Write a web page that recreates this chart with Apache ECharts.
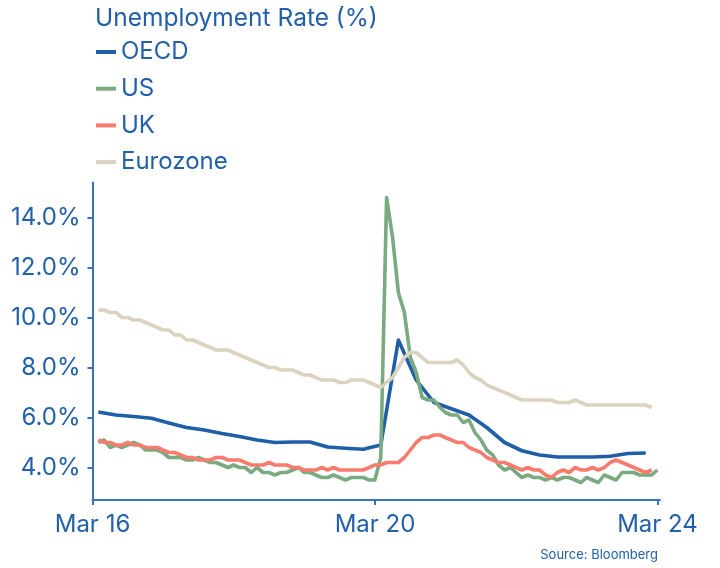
<!DOCTYPE html>
<html>
<head>
<meta charset="utf-8">
<script src="https://cdn.jsdelivr.net/npm/echarts@6/dist/echarts.min.js"></script>
<style>
  html, body { margin: 0; padding: 0; background: #fff; }
  #chart { width: 720px; height: 568px; }
</style>
</head>
<body>
<div id="chart"></div>
<script>
// ---- Data (monthly series start Mar 2016, plotted at month end) ----
const seriesNames = ['OECD', 'US', 'UK', 'Eurozone'];

// US: Mar 2016 .. Feb 2024
const usValues = [
  5.0, 5.1, 4.8, 4.9, 4.8, 4.9, 5.0, 4.9, 4.7, 4.7,
  4.7, 4.6, 4.4, 4.4, 4.4, 4.3, 4.3, 4.4, 4.3, 4.2, 4.2, 4.1,
  4.0, 4.1, 4.0, 4.0, 3.8, 4.0, 3.8, 3.8, 3.7, 3.8, 3.8, 3.9,
  4.0, 3.8, 3.8, 3.7, 3.6, 3.6, 3.7, 3.6, 3.5, 3.6, 3.6, 3.6,
  3.5, 3.5, 4.4, 14.8, 13.2, 11.0, 10.2, 8.4, 7.8, 6.8, 6.7, 6.7,
  6.4, 6.2, 6.1, 6.1, 5.8, 5.9, 5.4, 5.1, 4.7, 4.5, 4.1, 3.9,
  4.0, 3.8, 3.6, 3.7, 3.6, 3.6, 3.5, 3.6, 3.5, 3.6, 3.6, 3.5,
  3.4, 3.6, 3.5, 3.4, 3.7, 3.6, 3.5, 3.8, 3.8, 3.8, 3.7, 3.7,
  3.7, 3.9
];

// UK: Mar 2016 .. Jan 2024
const ukValues = [
  5.1, 5.0, 5.0, 4.9, 4.9, 5.0, 4.9, 4.9, 4.8, 4.8,
  4.8, 4.7, 4.6, 4.6, 4.5, 4.4, 4.4, 4.3, 4.3, 4.3, 4.4, 4.4,
  4.3, 4.3, 4.3, 4.2, 4.1, 4.1, 4.1, 4.2, 4.1, 4.1, 4.1, 4.0,
  4.0, 3.9, 3.9, 3.9, 4.0, 3.9, 4.0, 3.9, 3.9, 3.9, 3.9, 3.9,
  4.0, 4.1, 4.1, 4.2, 4.2, 4.2, 4.4, 4.7, 5.0, 5.2, 5.2, 5.3,
  5.3, 5.2, 5.1, 5.0, 5.0, 4.8, 4.7, 4.6, 4.4, 4.3, 4.2, 4.2,
  4.1, 4.0, 3.9, 4.0, 3.9, 3.9, 3.7, 3.6, 3.8, 3.9, 3.8, 4.0,
  3.9, 3.9, 4.0, 3.9, 4.0, 4.2, 4.3, 4.2, 4.1, 4.0, 3.9, 3.8,
  3.9
];

// Eurozone: Mar 2016 .. Jan 2024
const euroValues = [
  10.3, 10.3, 10.2, 10.2, 10.0, 10.0, 9.9, 9.9, 9.8, 9.7,
  9.6, 9.5, 9.5, 9.3, 9.3, 9.1, 9.1, 9.0, 8.9, 8.8, 8.7, 8.7,
  8.7, 8.6, 8.5, 8.4, 8.3, 8.2, 8.1, 8.0, 8.0, 7.9, 7.9, 7.9,
  7.8, 7.7, 7.7, 7.6, 7.5, 7.5, 7.5, 7.4, 7.4, 7.5, 7.5, 7.5,
  7.4, 7.3, 7.2, 7.4, 7.6, 8.0, 8.4, 8.6, 8.6, 8.4, 8.2, 8.2,
  8.2, 8.2, 8.2, 8.3, 8.1, 7.8, 7.6, 7.5, 7.3, 7.2, 7.1, 7.0,
  6.9, 6.8, 6.7, 6.7, 6.7, 6.7, 6.7, 6.7, 6.6, 6.6, 6.6, 6.7,
  6.6, 6.5, 6.5, 6.5, 6.5, 6.5, 6.5, 6.5, 6.5, 6.5, 6.5, 6.5,
  6.4
];

// OECD: quarterly, Q1 2016 .. Q4 2023 (plotted at quarter end)
const oecdValues = [
  6.22, 6.1, 6.04, 5.97,
  5.78, 5.6, 5.5, 5.36,
  5.24, 5.1, 5.0, 5.02,
  5.02, 4.82, 4.77, 4.73,
  4.9, 9.1, 7.5, 6.6,
  6.35, 6.1, 5.6, 5.0,
  4.67, 4.5, 4.42, 4.42,
  4.42, 4.45, 4.56, 4.58
];

const xTickDates = [[2016, 2], [2020, 2], [2024, 2]];
const xTickLabels = ['Mar 16', 'Mar 20', 'Mar 24'];
const yTicks = [4, 6, 8, 10, 12, 14];

// ---- Build ----
function monthEnd(startYear, startMonth, offset) {
  return new Date(startYear, startMonth + offset + 1, 0).getTime();
}
function monthlyPairs(values) {
  return values.map((v, i) => [monthEnd(2016, 2, i), v]);
}
function quarterlyPairs(values) {
  return values.map((v, i) => [monthEnd(2016, 2, i * 3), v]);
}
const xTickValues = xTickDates.map(d => new Date(d[0], d[1], 1).getTime());

const BLUE_TEXT = '#2260a9';
const AXIS = '#3b74bb';
const FONT = 'Inter, Roboto, sans-serif';
const colors = ['#1f5fa8', '#79aa80', '#f87c6d', '#dbd2bf'];

const chart = echarts.init(document.getElementById('chart'), null, { renderer: 'canvas' });

const seriesData = [
  quarterlyPairs(oecdValues),
  monthlyPairs(usValues),
  monthlyPairs(ukValues),
  monthlyPairs(euroValues)
];

chart.setOption({
  animation: false,
  color: colors,
  title: {
    text: 'Unemployment Rate (%)',
    left: 95,
    top: 5,
    padding: 0,
    textStyle: { color: BLUE_TEXT, fontSize: 24.5, fontWeight: 'normal', fontFamily: FONT, lineHeight: 28 }
  },
  legend: {
    orient: 'vertical',
    left: 96,
    top: 39,
    padding: 0,
    icon: 'rect',
    itemWidth: 20,
    itemHeight: 4,
    itemGap: 10.7,
    data: seriesNames,
    textStyle: { color: BLUE_TEXT, fontSize: 24, fontFamily: FONT, lineHeight: 26 }
  },
  grid: { left: 92.5, right: 60, top: 182.5, bottom: 68, containLabel: false },
  xAxis: {
    type: 'value',
    min: new Date(2016, 2, 1).getTime(),
    max: new Date(2024, 2, 14).getTime(),
    axisLine: { show: true, lineStyle: { color: AXIS, width: 2 } },
    axisTick: { show: true, length: 5, customValues: xTickValues, lineStyle: { color: AXIS, width: 2 } },
    splitLine: { show: false },
    axisLabel: {
      customValues: xTickValues,
      margin: 13,
      color: BLUE_TEXT,
      fontSize: 24,
      fontFamily: FONT,
      showMinLabel: true,
      showMaxLabel: true,
      formatter: function (val) {
        const idx = xTickValues.indexOf(val);
        return idx >= 0 ? xTickLabels[idx] : '';
      }
    }
  },
  yAxis: {
    type: 'value',
    min: 2.7,
    max: 15.4,
    axisLine: { show: true, lineStyle: { color: AXIS, width: 2 } },
    axisTick: { show: true, length: 5, customValues: yTicks, lineStyle: { color: AXIS, width: 2 } },
    splitLine: { show: false },
    axisLabel: {
      customValues: yTicks,
      margin: 12,
      color: BLUE_TEXT,
      fontSize: 24,
      fontFamily: FONT,
      formatter: v => v.toFixed(1) + '%'
    }
  },
  graphic: [{
    type: 'text',
    right: 62,
    top: 549,
    style: { text: 'Source: Bloomberg', fill: BLUE_TEXT, font: '13px ' + FONT }
  }],
  series: seriesNames.map((name, k) => ({
    name: name,
    type: 'line',
    data: seriesData[k],
    showSymbol: false,
    symbol: 'none',
    itemStyle: { color: colors[k] },
    lineStyle: { color: colors[k], width: 3.6, join: 'round' },
    emphasis: { disabled: true }
  }))
});
</script>
</body>
</html>
